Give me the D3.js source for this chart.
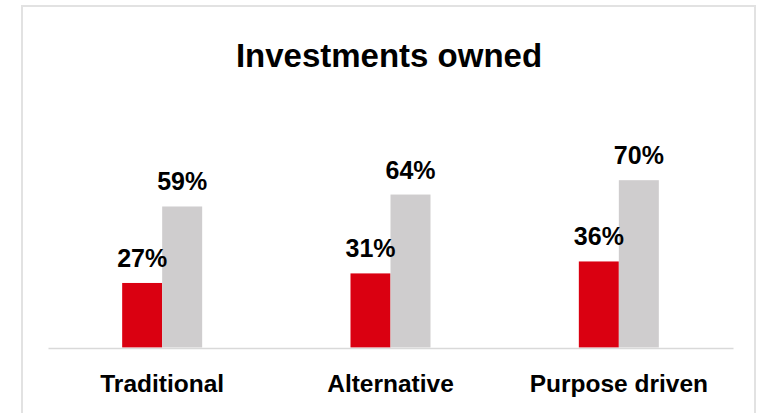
<!DOCTYPE html>
<html>
<head>
<meta charset="utf-8">
<script src="https://cdn.jsdelivr.net/npm/d3@7"></script>
<style>
  html, body { margin: 0; padding: 0; background: #fff; }
  svg { display: block; font-family: "Liberation Sans", Arial, Helvetica, sans-serif; }
</style>
</head>
<body>
<svg id="chart" width="761" height="413"></svg>
<script>
// Share of respondents owning each type of investment
const categories = ["Traditional", "Alternative", "Purpose driven"];
const seriesNames = ["Group A", "Group B"];
const seriesA = [27, 31, 36];
const seriesB = [59, 64, 70];
const seriesColors = ["#da0011", "#cfcdce"];
const titleText = "Investments owned";

const svg = d3.select("#chart");
const W = 761, H = 413;

// Card outline
svg.append("rect")
  .attr("x", 22).attr("y", 6)
  .attr("width", 733).attr("height", H)
  .attr("fill", "#fff")
  .attr("stroke", "#e2e2e2")
  .attr("stroke-width", 2);

// Title
svg.append("text")
  .attr("x", 389).attr("y", 66.5)
  .attr("text-anchor", "middle")
  .attr("font-size", 33)
  .attr("font-weight", "bold")
  .attr("fill", "#000")
  .text(titleText);

const baseY = 347.5;
const x0 = d3.scaleBand().domain(categories).range([48, 733]).padding(0);
const x1 = d3.scaleBand().domain(seriesNames).range([-40, 40]).padding(0);
const y = d3.scaleLinear().domain([0, 100]).range([baseY, baseY - 239]);

const rows = categories.map((c, i) => ({
  category: c,
  values: [
    { key: seriesNames[0], value: seriesA[i], color: seriesColors[0] },
    { key: seriesNames[1], value: seriesB[i], color: seriesColors[1] }
  ]
}));

const groups = svg.append("g").selectAll("g")
  .data(rows).join("g")
  .attr("transform", d => `translate(${x0(d.category) + x0.bandwidth() / 2},0)`);

groups.selectAll("rect")
  .data(d => d.values).join("rect")
  .attr("x", d => x1(d.key))
  .attr("width", x1.bandwidth())
  .attr("y", d => y(d.value))
  .attr("height", d => y(0) - y(d.value))
  .attr("fill", d => d.color);

groups.selectAll("text.val")
  .data(d => d.values).join("text")
  .attr("class", "val")
  .attr("x", d => x1(d.key) + x1.bandwidth() / 2)
  .attr("y", d => y(d.value) - 16)
  .attr("text-anchor", "middle")
  .attr("font-size", 25)
  .attr("font-weight", "bold")
  .attr("fill", "#000")
  .text(d => d.value + "%");

// Category axis
const axis = svg.append("g")
  .attr("transform", `translate(0,${baseY + 0.5})`)
  .call(d3.axisBottom(x0).tickSize(0).tickSizeOuter(0));

axis.select(".domain")
  .attr("stroke", "#d9d9d9")
  .attr("stroke-width", 1.5);

axis.selectAll(".tick text")
  .attr("y", 44)
  .attr("dy", 0)
  .attr("font-size", 24.5)
  .attr("font-weight", "bold")
  .attr("font-family", "\"Liberation Sans\", Arial, sans-serif")
  .attr("fill", "#000");
</script>
</body>
</html>
